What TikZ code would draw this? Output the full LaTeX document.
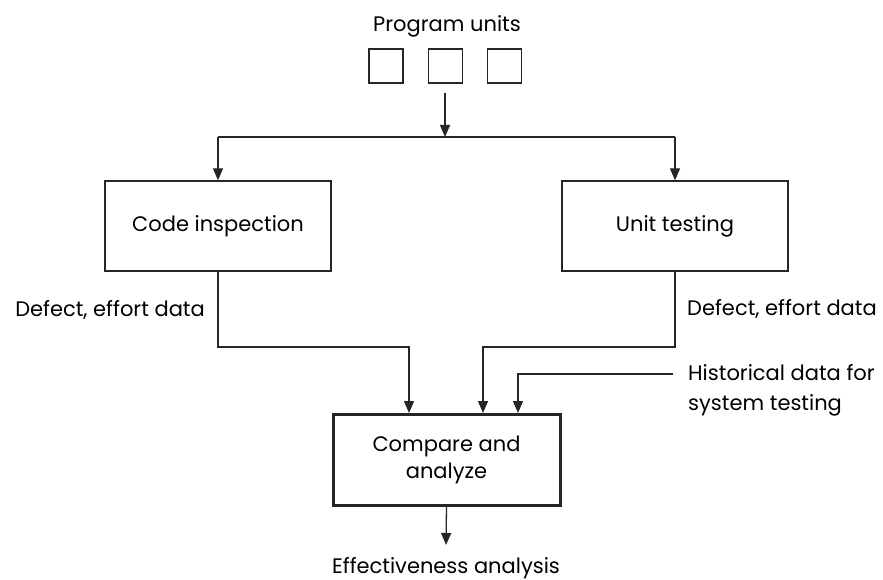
\documentclass[tikz,border=0pt]{standalone}
\usepackage{fontspec}
\setmainfont{Poppins}
\usetikzlibrary{arrows.meta}
\tikzset{
  box/.style={draw=black!85, line width=1.3pt, minimum width=226pt, minimum height=90pt, inner sep=0pt},
  unitbox/.style={draw=black!85, line width=1.3pt, minimum width=34pt, minimum height=34pt, inner sep=0pt},
  txt/.style={inner sep=0pt, font=\fontsize{21}{30}\selectfont},
  flow/.style={draw=black!85, line width=1.3pt, -{Triangle[length=12pt, width=10pt]}},
  wire/.style={draw=black!85, line width=1.3pt}
}
\begin{document}
\begin{tikzpicture}[x=1pt, y=-1pt]
			%%%%% FRAME %%%%%
			\useasboundingbox (0, 0) rectangle (883, 580);
			
			\node[txt, anchor=base] (units) at (447, 32) {Program units};
			\node[unitbox] (u1) at (386, 66) {};
			\node[unitbox] (u2) at (445.5, 66) {};
			\node[unitbox] (u3) at (504.5, 66) {};
			
			\coordinate (split) at (445, 137);
			\draw[flow] (445, 93) coordinate (src) -- (split);
			
			\node[box, txt] (code) at (218, 226) {Code inspection};
			\node[box, txt] (unit) at (675, 226) {Unit testing};
			\draw[wire] (split) -- (split -| code);
			\draw[wire] (split) -- (split -| unit);
			\draw[flow] (split -| code) -- (code.north);
			\draw[flow] (split -| unit) -- (unit.north);
			
			\node[box, txt, font=\fontsize{21}{27}\selectfont, line width=3pt, align=center, minimum width=227pt, minimum height=91pt] (cmp) at (446.5, 460) {Compare and\\analyze};
			
			\node[txt, anchor=base east] (dleft) at (205, 316) {Defect, effort data};
			\node[txt, anchor=base west] (dright) at (687, 315) {Defect, effort data};
			
			\coordinate (jl) at (409, 347);
			\coordinate (jr) at (483, 347);
			\draw[flow] (code.south) -- (code.south |- jl) -- (jl) -- (jl |- cmp.north);
			\draw[flow] (unit.south) -- (unit.south |- jr) -- (jr) -- (jr |- cmp.north);
			
			\node[txt, anchor=north west, align=left] (hist) at (688, 364) {Historical data for\\system testing};
			\coordinate (hend) at (673, 374);
			\coordinate (hj) at (518, 374);
			\draw[flow] (hend) -- (hj) -- (hj |- cmp.north);
			
			\node[txt, anchor=base] (eff) at (446, 573) {Effectiveness analysis};
			\draw[flow] (cmp.south) -- (446, 545);
			%%%%% END %%%%%
\end{tikzpicture}
\end{document}
